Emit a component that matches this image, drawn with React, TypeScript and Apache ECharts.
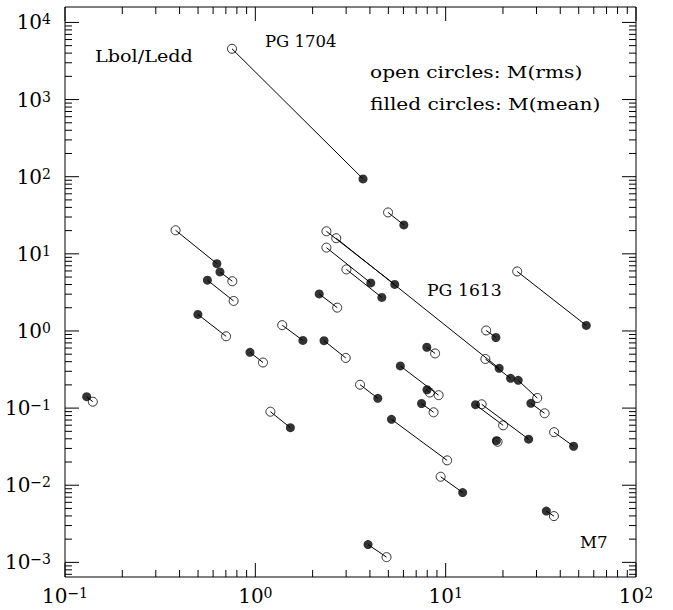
import React, { useEffect, useRef } from "react";
import * as echarts from "echarts";

const FONT = "'DejaVu Serif', 'Liberation Serif', serif";

// open circles: M(rms)  (x, Lbol/Ledd)
const rmsX = [0.754, 0.381, 0.757, 0.769, 0.702, 1.097, 0.14, 1.2, 1.384, 2.985, 2.693, 2.363, 2.661, 2.363, 3.01, 4.98, 23.76, 16.32, 16.17, 30.27, 33.1, 20.05, 15.46, 18.74, 37.13, 37.05, 9.18, 8.25, 8.8, 3.55, 8.64, 10.18, 9.41, 4.89];
const rmsY = [4550, 20.2, 4.41, 2.45, 0.853, 0.39, 0.121, 0.0898, 1.189, 0.447, 2.006, 19.6, 15.94, 12.04, 6.28, 34.4, 5.91, 1.015, 0.433, 0.135, 0.0856, 0.0598, 0.112, 0.0366, 0.0487, 0.00398, 0.147, 0.159, 0.511, 0.201, 0.0882, 0.021, 0.01288, 0.00117];
// filled circles: M(mean)
const meanX = [3.68, 0.628, 0.652, 0.56, 0.499, 0.937, 0.13, 1.528, 1.778, 2.296, 2.166, 5.4, 19.1, 4.04, 4.62, 6.03, 54.8, 18.36, 21.93, 24.05, 28.04, 14.35, 27.28, 18.47, 47.0, 33.8, 5.78, 7.98, 7.96, 4.4, 7.47, 5.19, 12.28, 3.91];
const meanY = [93.7, 7.46, 5.82, 4.55, 1.64, 0.529, 0.1405, 0.0557, 0.753, 0.748, 3.02, 4.01, 0.328, 4.19, 2.72, 23.7, 1.178, 0.823, 0.243, 0.229, 0.1154, 0.1107, 0.0395, 0.0378, 0.032, 0.00462, 0.352, 0.173, 0.615, 0.134, 0.1147, 0.0716, 0.00804, 0.0017];

const X_MIN = 0.1;
const X_MAX = 100;
const Y_MIN = 0.000646;
const Y_MAX = 15850;

const xDecades = [0.1, 1, 10];
const yDecades = [0.0001, 0.001, 0.01, 0.1, 1, 10, 100, 1000, 10000];
const xMajorTicks = [0.1, 1, 10, 100];
const yMajorTicks = [0.001, 0.01, 0.1, 1, 10, 100, 1000, 10000];
const minorMultipliers = [2, 3, 4, 5, 6, 7, 8, 9];

const annotations = [
  { text: "Lbol/Ledd", x: 95, baseline: 61.7, scaleX: 1.2 },
  { text: "PG 1704", x: 265, baseline: 46.7, scaleX: 1.03 },
  { text: "open circles: M(rms)", x: 370, baseline: 77.5, scaleX: 1.26 },
  { text: "filled circles: M(mean)", x: 370, baseline: 110, scaleX: 1.26 },
  { text: "PG 1613", x: 427, baseline: 296.7, scaleX: 1.08 },
  { text: "M7", x: 580, baseline: 548.3, scaleX: 1.04 },
];

const MAJOR_LEN = 14;
const MINOR_LEN = 7;

function expLabel(v: number): string {
  const e = Math.log10(v);
  const r = Math.round(e);
  if (Math.abs(e - r) > 1e-6) return "";
  const s = r < 0 ? "\u2212" + String(-r) : String(r);
  return "{b|10}{s|" + s + "}";
}

const richStyle = {
  b: { fontSize: 20, fontFamily: FONT, color: "#000", lineHeight: 20 },
  s: { fontSize: 14, fontFamily: FONT, color: "#000", lineHeight: 17, verticalAlign: "top" },
};

function minorValues(decades: number[], lo: number, hi: number): number[] {
  const out: number[] = [];
  decades.forEach((d) => {
    minorMultipliers.forEach((m) => {
      const v = d * m;
      if (v >= lo && v <= hi) out.push(v);
    });
  });
  return out;
}

export default function App() {
  const ref = useRef<HTMLDivElement>(null);

  useEffect(() => {
    if (!ref.current) return;
    const chart = echarts.init(ref.current, undefined, { renderer: "svg" });

    const xMinor = minorValues(xDecades, X_MIN, X_MAX);
    const yMinor = minorValues(yDecades, Y_MIN, Y_MAX);

    const pairs = rmsX.map((_, i) => ({
      coords: [
        [rmsX[i], rmsY[i]],
        [meanX[i], meanY[i]],
      ],
    }));

    const option: any = {
      animation: false,
      backgroundColor: "#fff",
      grid: {
        left: 65,
        right: 37,
        top: 7,
        bottom: 33,
        show: true,
        borderColor: "#000",
        borderWidth: 1,
        backgroundColor: "transparent",
      },
      xAxis: {
        type: "log",
        logBase: 10,
        min: X_MIN,
        max: X_MAX,
        axisLine: { show: false },
        axisTick: { show: false },
        splitLine: { show: false },
        axisLabel: { formatter: expLabel, rich: richStyle, margin: 9 },
      },
      yAxis: {
        type: "log",
        logBase: 10,
        min: Y_MIN,
        max: Y_MAX,
        axisLine: { show: false },
        axisTick: { show: false },
        splitLine: { show: false },
        axisLabel: { formatter: expLabel, rich: richStyle, margin: 14 },
      },
      series: [
        {
          type: "lines",
          coordinateSystem: "cartesian2d",
          polyline: false,
          silent: true,
          lineStyle: { color: "#000", width: 1, opacity: 1 },
          data: pairs,
          z: 1,
        },
        {
          type: "scatter",
          name: "M(rms)",
          symbol: "circle",
          symbolSize: 9,
          silent: true,
          itemStyle: { color: "rgba(0,0,0,0)", borderColor: "#000", borderWidth: 1 },
          data: rmsX.map((x, i) => [x, rmsY[i]]),
          z: 3,
        },
        {
          type: "scatter",
          name: "M(mean)",
          symbol: "circle",
          symbolSize: 9,
          silent: true,
          itemStyle: { color: "#000" },
          data: meanX.map((x, i) => [x, meanY[i]]),
          z: 4,
        },
        {
          type: "custom",
          silent: true,
          clip: false,
          z: 5,
          data: [[1, 1]],
          renderItem: (_params: any, api: any) => {
            const children: any[] = [];
            const tl = api.coord([X_MIN, Y_MAX]);
            const br = api.coord([X_MAX, Y_MIN]);
            const left = tl[0];
            const top = tl[1];
            const right = br[0];
            const bottom = br[1];
            const seg = (x1: number, y1: number, x2: number, y2: number) =>
              children.push({
                type: "line",
                shape: { x1, y1, x2, y2 },
                style: { stroke: "#000", lineWidth: 1 },
              });
            const xt = (v: number, len: number) => {
              const px = api.coord([v, Y_MIN])[0];
              seg(px, bottom, px, bottom - len);
              seg(px, top, px, top + len);
            };
            const yt = (v: number, len: number) => {
              const py = api.coord([X_MIN, v])[1];
              seg(left, py, left + len, py);
              seg(right, py, right - len, py);
            };
            xMajorTicks.forEach((v) => xt(v, MAJOR_LEN));
            xMinor.forEach((v) => xt(v, MINOR_LEN));
            yMajorTicks.forEach((v) => yt(v, MAJOR_LEN));
            yMinor.forEach((v) => yt(v, MINOR_LEN));
            return { type: "group", children };
          },
        },
      ],
      graphic: annotations.map((a) => ({
        type: "text",
        x: a.x,
        y: a.baseline - 5.6,
        scaleX: a.scaleX,
        silent: true,
        style: {
          text: a.text,
          fontSize: 16,
          fontFamily: FONT,
          fill: "#000",
          align: "left",
          verticalAlign: "middle",
        },
      })),
    };

    chart.setOption(option);
    return () => {
      chart.dispose();
    };
  }, []);

  return (
    <div
      ref={ref}
      style={{ position: "fixed", left: 0, top: 0, width: 673, height: 610, background: "#fff" }}
    />
  );
}
